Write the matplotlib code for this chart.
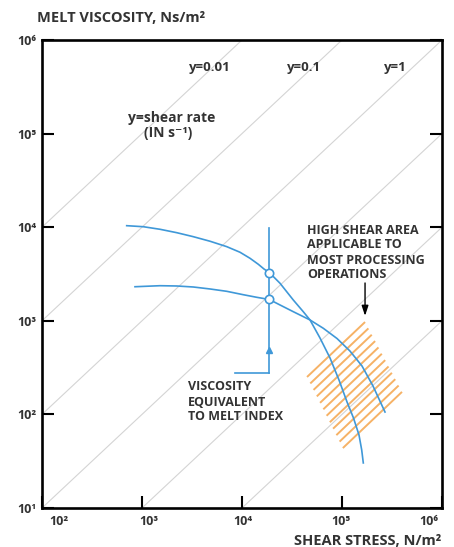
import numpy as np
import matplotlib
matplotlib.use('Agg')
import matplotlib.pyplot as plt
from matplotlib import transforms

# ---------------- data ----------------
upper_stress = [703, 1030, 1514, 2223, 3258, 4786, 7031, 9550, 12020, 14550, 16600, 18750,
                23990, 32580, 41020, 47860, 60260, 75860, 93330, 112200, 130300, 147900,
                157400, 163300]
upper_visc = [10380, 10120, 9500, 8740, 7920, 7080, 6200, 5400, 4656, 4018, 3575, 3280,
              2518, 1668, 1250, 1021, 655, 401, 233, 136, 91.5, 60.3, 41.7, 30.3]
lower_stress = [851, 1514, 2223, 3258, 4786, 7031, 10300, 14030, 18750, 23990, 32580, 47860,
                65010, 89130, 120200, 158500, 204200, 269200]
lower_visc = [2312, 2371, 2355, 2297, 2188, 2066, 1900, 1783, 1690, 1476, 1251, 1021,
              832, 647, 475, 329, 201, 106]

shear_rates = [0.01, 0.1, 1, 10, 100, 1000]
rate_labels = ['y=0.01', 'y=0.1', 'y=1']

mi_stress = 18750            # stress at melt-index condition
mi_visc = [3280, 1690]       # circle markers
mi_line_visc = [9800, 275]   # vertical line extent
mi_arrow_visc = 490
mi_leader_stress = 8500

# high-shear region corners (stress, viscosity): top, left, bottom, right
region_stress = [1.70e5, 4.47e4, 1.02e5, 3.98e5]
region_visc = [970, 251, 43.7, 174]
n_hatch = 12
arrow_visc = [2535, 1130]

xticks = [1e2, 1e3, 1e4, 1e5, 1e6]
xtick_labels = ['10²', '10³', '10⁴', '10⁵', '10⁶']
yticks = [1e1, 1e2, 1e3, 1e4, 1e5, 1e6]
ytick_labels = ['10¹', '10²', '10³', '10⁴', '10⁵', '10⁶']

# ---------------- style ----------------
FAM = ['Open Sans', 'DejaVu Sans']
TXT = '#333333'
BLUE = '#3f98d8'
ORANGE = '#f6b266'
GREY = '#d4d4d4'

W, H = 454, 547
fig = plt.figure(figsize=(W / 100, H / 100), dpi=100)
L, R, T, B = 42, 442, 40, 508
ax = fig.add_axes([L / W, 1 - B / H, (R - L) / W, (B - T) / H])
ax.set_xscale('log')
ax.set_yscale('log')
ax.set_xlim(1e2, 1e6)
ax.set_ylim(1e1, 1e6)

def ftext(px, py, s, size=9, ha='left', va='center', weight='bold'):
    fig.text(px / W, 1 - py / H, s, ha=ha, va=va, fontsize=size,
             family=FAM, weight=weight, color=TXT)

# shear-rate lines
xs = np.array([1e1, 1e7])
for g in shear_rates:
    ax.plot(xs, xs / g, color=GREY, lw=0.8, zorder=1)

# hatch lines (constant shear rate) inside the high-shear region
ls = np.log10(region_stress)
lv = np.log10(region_visc)
for t in np.linspace(0, 1, n_hatch):
    ax_ = ls[0] + t * (ls[3] - ls[0]); ay_ = lv[0] + t * (lv[3] - lv[0])
    bx_ = ls[1] + t * (ls[2] - ls[1]); by_ = lv[1] + t * (lv[2] - lv[1])
    ax.plot([10 ** bx_, 10 ** ax_], [10 ** by_, 10 ** ay_], color=ORANGE, lw=1.4,
            solid_capstyle='butt', zorder=2)

# curves
ax.plot(upper_stress, upper_visc, color=BLUE, lw=1.2, zorder=3)
ax.plot(lower_stress, lower_visc, color=BLUE, lw=1.2, zorder=3)

# melt index construction
ax.plot([mi_stress, mi_stress], mi_line_visc, color=BLUE, lw=1.2, zorder=3)
ax.plot([mi_leader_stress, mi_stress], [mi_line_visc[1], mi_line_visc[1]], color=BLUE, lw=1.2, zorder=3)
ax.plot([mi_stress], [mi_arrow_visc], marker='^', color=BLUE, ms=4.5, zorder=4)
ax.plot([mi_stress] * 2, mi_visc, ls='none', marker='o', mfc='white', mec=BLUE,
        mew=1.2, ms=6, zorder=5)

# black arrow to high shear area
ax.annotate('', xy=(region_stress[0], arrow_visc[1]), xytext=(region_stress[0], arrow_visc[0]),
            arrowprops=dict(arrowstyle='-|>,head_length=0.6,head_width=0.2', color='black',
                            lw=1.0, shrinkA=0, shrinkB=0), zorder=6)

# spines & ticks
for s in ax.spines.values():
    s.set_linewidth(1.9)
    s.set_color('black')
ax.set_xticks(xticks)
ax.set_xticklabels(xtick_labels)
ax.set_yticks(yticks)
ax.set_yticklabels(ytick_labels)
ax.minorticks_off()
ax.tick_params(axis='x', which='major', direction='in', length=8.6, width=1.5,
               pad=5, bottom=True, top=False, labelsize=9, labelcolor=TXT)
ax.tick_params(axis='y', which='major', direction='in', length=8.6, width=1.5,
               pad=4, left=True, right=True, labelsize=9, labelcolor=TXT)
for lab in ax.get_xticklabels() + ax.get_yticklabels():
    lab.set_family(FAM)
    lab.set_weight('bold')
offs = [17, 7, 1, -1, -13]
for lab, o in zip(ax.get_xticklabels(), offs):
    lab.set_transform(lab.get_transform() + transforms.ScaledTranslation(o / 100, 0, fig.dpi_scale_trans))

# texts
ftext(37, 18, 'MELT VISCOSITY, Ns/m²', size=10.5)
ftext(441, 541, 'SHEAR STRESS, N/m²', size=10.5, ha='right')
ftext(210, 67, rate_labels[0], ha='center', size=9.5)
ftext(304, 67, rate_labels[1], ha='center', size=9.5)
ftext(395, 67, rate_labels[2], ha='center', size=9.5)
ftext(172, 118, 'y=shear rate', ha='center', size=10)
ftext(168, 133, '(IN s⁻¹)', ha='center', size=10)
for i, s in enumerate(['HIGH SHEAR AREA', 'APPLICABLE TO', 'MOST PROCESSING', 'OPERATIONS']):
    ftext(307, 230 + 15 * i, s, size=9)
for i, s in enumerate(['VISCOSITY', 'EQUIVALENT', 'TO MELT INDEX']):
    ftext(188, 387 + 15 * i, s, size=9)

fig.savefig('out.png', dpi=100)
